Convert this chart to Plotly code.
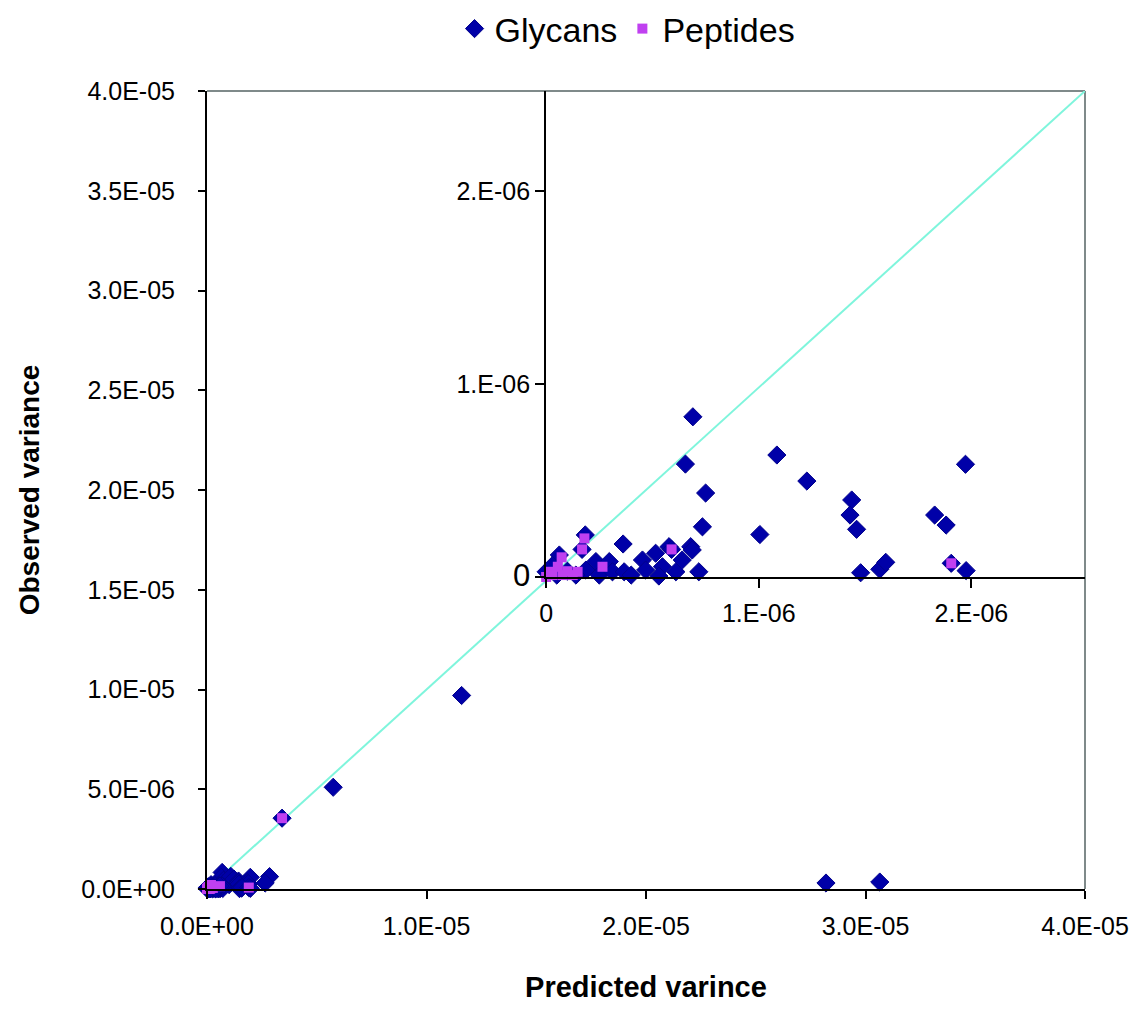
import plotly.graph_objects as go

# ---------------- data (variances) ----------------
glycan_x = [11.6e-6, 5.75e-6, 3.42e-6, 28.2e-6, 30.65e-6, 2.85e-6, 2.65e-6,
            0.69e-6, 0.655e-6, 0.75e-6, 0.735e-6, 1.005e-6,
            1.085e-6, 1.226e-6, 1.437e-6, 1.429e-6, 1.46e-6, 1.972e-6, 1.827e-6, 1.881e-6,
            1.479e-6, 1.569e-6, 1.597e-6, 1.905e-6, 1.975e-6,
            0.184e-6, 0.169e-6, 0.362e-6, 0.062e-6, 0.0, 0.03e-6, 0.1e-6, 0.234e-6, 0.297e-6,
            0.25e-6, 0.312e-6, 0.367e-6, 0.187e-6, 0.453e-6, 0.515e-6, 0.547e-6, 0.468e-6,
            0.53e-6, 0.61e-6, 0.64e-6, 0.718e-6, 0.578e-6, 0.68e-6, 0.687e-6, 0.59e-6,
            0.05e-6, 0.14e-6, 0.4e-6]
glycan_y = [9.7e-6, 5.1e-6, 3.55e-6, 0.3e-6, 0.35e-6, 0.62e-6, 0.3e-6,
            0.83e-6, 0.585e-6, 0.435e-6, 0.26e-6, 0.22e-6,
            0.632e-6, 0.497e-6, 0.399e-6, 0.321e-6, 0.247e-6, 0.584e-6, 0.321e-6, 0.269e-6,
            0.022e-6, 0.04e-6, 0.076e-6, 0.071e-6, 0.033e-6,
            0.218e-6, 0.143e-6, 0.171e-6, 0.114e-6, 0.027e-6, 0.06e-6, 0.03e-6, 0.08e-6, 0.08e-6,
            0.01e-6, 0.027e-6, 0.027e-6, 0.036e-6, 0.088e-6, 0.123e-6, 0.053e-6, 0.036e-6,
            0.005e-6, 0.027e-6, 0.088e-6, 0.027e-6, 0.157e-6, 0.157e-6, 0.14e-6, 0.143e-6,
            0.01e-6, 0.01e-6, 0.01e-6]

peptide_x = [3.42e-6, 0.18e-6, 0.169e-6, 0.073e-6, 0.023e-6, 0.055e-6, 0.078e-6, 0.125e-6,
             0.148e-6, 0.1e-6, 0.03e-6, 0.265e-6, 0.59e-6, 1.905e-6, 0.0]
peptide_y = [3.55e-6, 0.20e-6, 0.143e-6, 0.102e-6, 0.027e-6, 0.053e-6, 0.01e-6, 0.01e-6,
             0.027e-6, 0.03e-6, 0.01e-6, 0.053e-6, 0.143e-6, 0.071e-6, 0.0]

identity_x = [0.0, 4.0e-5]
identity_y = [0.0, 4.0e-5]

main_ticks = [0.0, 5e-6, 1e-5, 1.5e-5, 2e-5, 2.5e-5, 3e-5, 3.5e-5, 4e-5]
main_y_labels = ["0.0E+00", "5.0E-06", "1.0E-05", "1.5E-05", "2.0E-05",
                 "2.5E-05", "3.0E-05", "3.5E-05", "4.0E-05"]
main_x_ticks = [0.0, 1e-5, 2e-5, 3e-5, 4e-5]
main_x_labels = ["0.0E+00", "1.0E-05", "2.0E-05", "3.0E-05", "4.0E-05"]
inset_ticks = [0.0, 1e-6, 2e-6]
inset_x_labels = ["0", "1.E-06", "2.E-06"]
inset_y_labels = ['<span style="font-size:31px">0</span>', "1.E-06", "2.E-06"]

# ---------------- styling ----------------
FONT = "Liberation Sans, Arial, sans-serif"
GLY = "#0000A8"
PEP = "#C040F0"

fig = go.Figure()

fig.add_trace(go.Scatter(x=identity_x, y=identity_y, mode="lines",
                         line=dict(color="#7FF5DC", width=2),
                         showlegend=False, hoverinfo="skip"))

for xa, ya, show in (("x", "y", True), ("x2", "y2", False)):
    fig.add_trace(go.Scatter(x=glycan_x, y=glycan_y, mode="markers", name="Glycans",
                             xaxis=xa, yaxis=ya, showlegend=show, cliponaxis=False,
                             marker=dict(symbol="diamond", size=14, color=GLY,
                                         line=dict(color="#00008C", width=1))))
    fig.add_trace(go.Scatter(x=peptide_x, y=peptide_y, mode="markers", name="Peptides",
                             xaxis=xa, yaxis=ya, showlegend=show, cliponaxis=False,
                             marker=dict(symbol="square", size=10, color=PEP,
                                         line=dict(width=0))))

tickfont = dict(family=FONT, size=25, color="black")

fig.update_layout(
    width=1141, height=1030,
    margin=dict(l=207, r=46, t=91, b=141),
    paper_bgcolor="white", plot_bgcolor="rgba(0,0,0,0)",
    font=dict(family=FONT, color="black"),
    showlegend=True,
    legend=dict(orientation="h", x=0.55, xanchor="center", xref="container",
                y=1.0, yref="container", yanchor="top",
                font=dict(family=FONT, size=34, color="black"),
                itemsizing="trace", tracegroupgap=0, itemwidth=30),
    xaxis=dict(domain=[0, 1], range=[0, 4e-5], tickvals=main_x_ticks, ticktext=main_x_labels,
               showgrid=False, zeroline=False, showline=True, linecolor="black", linewidth=2,
               ticks="outside", ticklen=8, tickwidth=2, tickcolor="black",
               tickfont=tickfont, ticklabelstandoff=6,
               title=dict(text="<b>Predicted varince</b>", font=dict(family=FONT, size=29),
                          standoff=38)),
    yaxis=dict(domain=[0, 1], range=[0, 4e-5], tickvals=main_ticks, ticktext=main_y_labels,
               showgrid=False, zeroline=False, showline=True, linecolor="black", linewidth=2,
               ticks="outside", ticklen=7, tickwidth=2, tickcolor="black",
               tickfont=tickfont, ticklabelstandoff=18,
               title=dict(text="<b>Observed variance</b>", font=dict(family=FONT, size=28),
                          standoff=33)),
    xaxis2=dict(domain=[(550 - 207) / 888, 1], range=[0, 2.534e-6], anchor="y2",
                tickvals=inset_ticks, ticktext=inset_x_labels,
                showgrid=False, zeroline=False, showline=True, linecolor="black", linewidth=2,
                ticks="outside", ticklen=9, tickwidth=2, tickcolor="black",
                tickfont=tickfont, ticklabelstandoff=4),
    yaxis2=dict(domain=[(889 - 577) / 798, 1], range=[0, 2.518e-6], anchor="x2",
                tickvals=inset_ticks, ticktext=inset_y_labels,
                showgrid=False, zeroline=False, showline=True, linecolor="black", linewidth=2,
                ticks="outside", ticklen=9, tickwidth=2, tickcolor="black",
                tickfont=tickfont, ticklabelstandoff=0),
    shapes=[
        dict(type="line", xref="paper", yref="paper", x0=0, x1=1, y0=1, y1=1,
             line=dict(color="#7F8A8A", width=2), layer="below"),
        dict(type="line", xref="paper", yref="paper", x0=1, x1=1, y0=0, y1=1,
             line=dict(color="#7F8A8A", width=2), layer="below"),
    ],
)

fig.write_html("out.html")
